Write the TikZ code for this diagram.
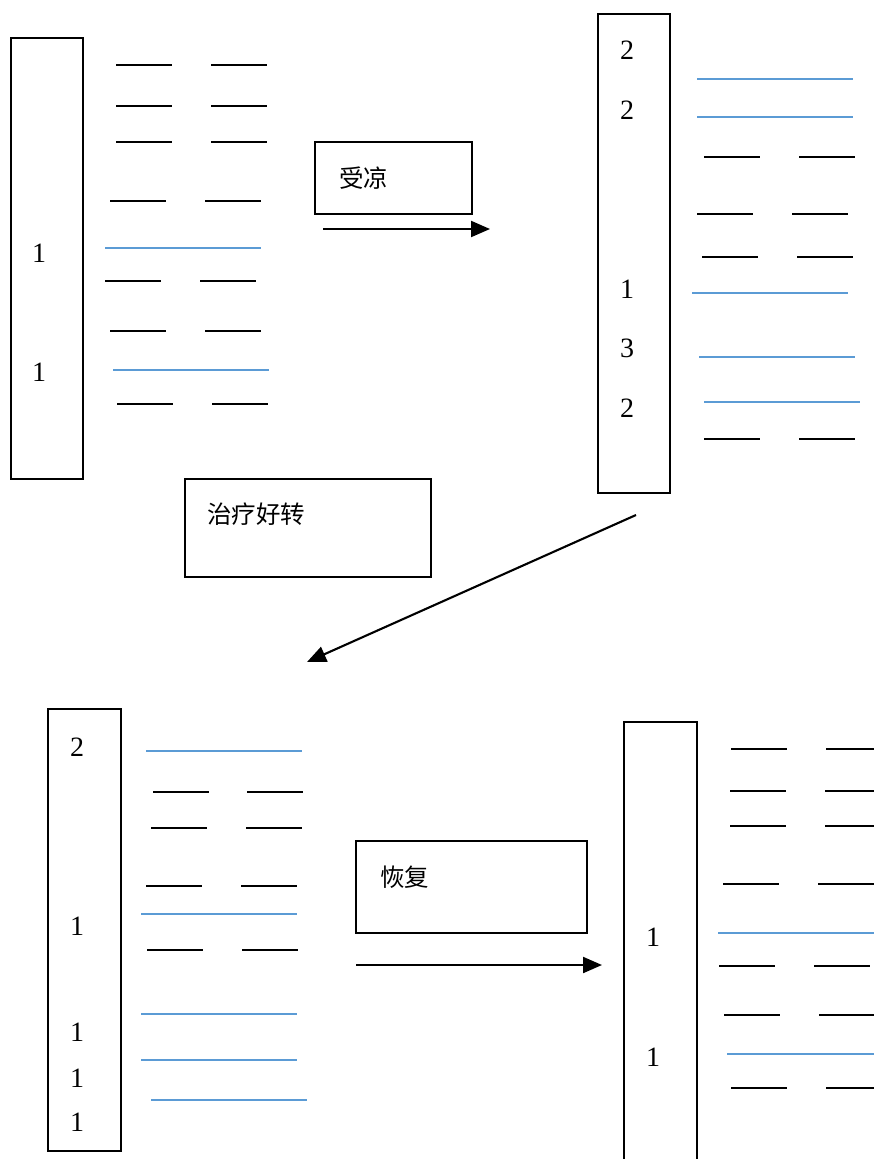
\documentclass[tikz,border=0pt]{standalone}
\usepackage{fontspec}
\setmainfont{Liberation Serif}
\newfontfamily\cjk{Noto Sans CJK SC}
\usetikzlibrary{arrows.meta}
\definecolor{barblue}{HTML}{5B9BD5}
\tikzset{
  panel/.style={draw=black, line width=1.8pt},
  tbox/.style={draw=black, line width=2.1pt},
  digit/.style={font=\fontsize{28}{28}\selectfont, inner sep=0pt},
  label/.style={font=\cjk\fontsize{24.5}{24.5}\selectfont, inner sep=0pt, anchor=west},
  bar/.style={line width=2.7pt, black},
  bluebar/.style={line width=1.6pt, barblue},
  flow/.style={line width=2.1pt, -{Triangle[length=19pt,width=16pt]}}
}
\newcommand\yinbar[3]{\draw[bar] (#1,#3) -- ++(56,0); \draw[bar] (#2,#3) -- ++(56,0);}
\newcommand\yangbar[2]{\draw[bluebar] (#1,#2) -- ++(156,0);}
\begin{document}
\begin{tikzpicture}[x=1pt,y=-1pt]
\useasboundingbox (0,0) rectangle (874,1159);
\fill[white] (0,0) rectangle (874,1159);

% ---------- Panel 1 ----------
\draw[panel] (11,38) rectangle (83,479);
\node[digit] (p1a) at (39,253) {1};
\node[digit] (p1b) at (39,372) {1};
\yinbar{116}{211}{65}
\yinbar{116}{211}{106}
\yinbar{116}{211}{142}
\yinbar{110}{205}{201}
\yangbar{105}{248}
\yinbar{105}{200}{281}
\yinbar{110}{205}{331}
\yangbar{113}{370}
\yinbar{117}{212}{404}

% ---------- Panel 2 ----------
\draw[panel] (598,14) rectangle (670,493);
\node[digit] (p2a) at (627,50) {2};
\node[digit] (p2b) at (627,110) {2};
\node[digit] (p2c) at (627,289) {1};
\node[digit] (p2d) at (627,348) {3};
\node[digit] (p2e) at (627,408) {2};
\yangbar{697}{79}
\yangbar{697}{117}
\yinbar{704}{799}{157}
\yinbar{697}{792}{214}
\yinbar{702}{797}{257}
\yangbar{692}{293}
\yangbar{699}{357}
\yangbar{704}{402}
\yinbar{704}{799}{439}

% ---------- Panel 3 ----------
\draw[panel] (48,709) rectangle (121,1151);
\node[digit] (p3a) at (77,747) {2};
\node[digit] (p3b) at (77,926) {1};
\node[digit] (p3c) at (77,1032) {1};
\node[digit] (p3d) at (77,1078) {1};
\node[digit] (p3e) at (77,1122) {1};
\yangbar{146}{751}
\yinbar{153}{247}{792}
\yinbar{151}{246}{828}
\yinbar{146}{241}{886}
\yangbar{141}{914}
\yinbar{147}{242}{950}
\yangbar{141}{1014}
\yangbar{141}{1060}
\yangbar{151}{1100}

% ---------- Panel 4 ----------
\draw[panel] (624,1175) -- (624,722) -- (697,722) -- (697,1175);
\node[digit] (p4a) at (653,937) {1};
\node[digit] (p4b) at (653,1057) {1};
\yinbar{731}{826}{749}
\yinbar{730}{825}{791}
\yinbar{730}{825}{826}
\yinbar{723}{818}{884}
\yangbar{718}{933}
\yinbar{719}{814}{966}
\yinbar{724}{819}{1015}
\yangbar{727}{1054}
\yinbar{731}{826}{1088}

% ---------- Labels and arrows ----------
\draw[tbox] (315,142) rectangle (472,214);
\node[label] (l1) at (339,178) {受凉};
\coordinate (a1s) at (323,229);
\coordinate (a1e) at (490,229);
\draw[flow] (a1s) -- (a1e);

\draw[tbox] (185,479) rectangle (431,577);
\node[label] (l2) at (207,514) {治疗好转};
\coordinate (a2s) at (636,515);
\coordinate (a2e) at (307,662);
\draw[flow] (a2s) -- (a2e);

\draw[tbox] (356,841) rectangle (587,933);
\node[label] (l3) at (380,877) {恢复};
\coordinate (a3s) at (356,965);
\coordinate (a3e) at (602,965);
\draw[flow] (a3s) -- (a3e);
\end{tikzpicture}
\end{document}
